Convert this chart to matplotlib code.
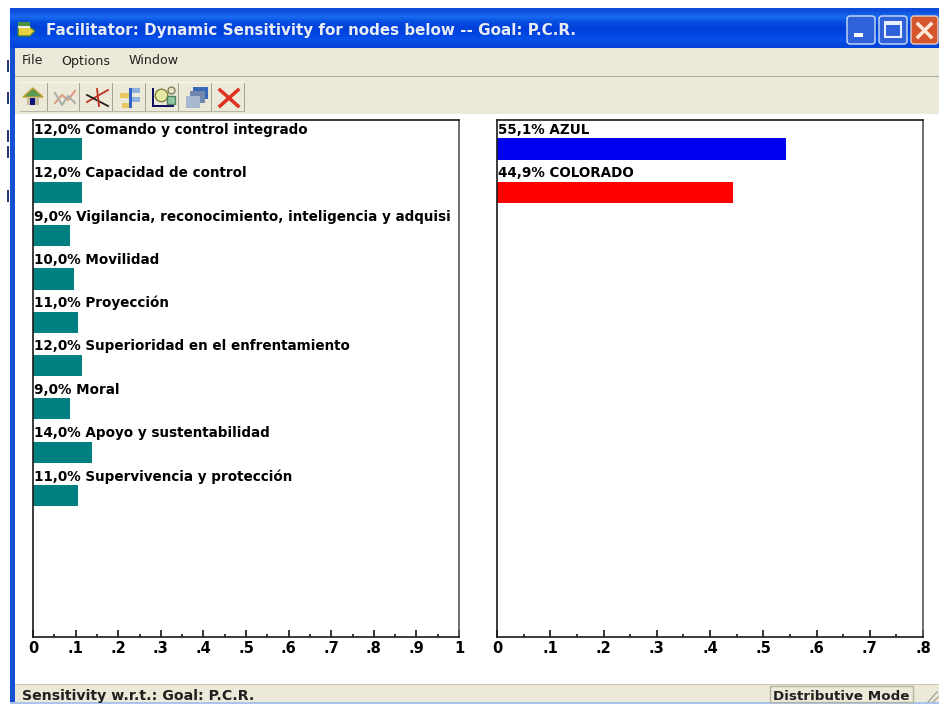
import numpy as np
import matplotlib
matplotlib.use("Agg")
import matplotlib.pyplot as plt
from matplotlib.patches import Rectangle, Polygon, FancyBboxPatch

W, H = 939, 706

# left panel
nodes = ["Comando y control integrado", "Capacidad de control",
         "Vigilancia, reconocimiento, inteligencia y adquisi", "Movilidad", "Proyección",
         "Superioridad en el enfrentamiento", "Moral", "Apoyo y sustentabilidad",
         "Supervivencia y protección"]
node_labels = ["12,0%", "12,0%", "9,0%", "10,0%", "11,0%", "12,0%", "9,0%", "14,0%", "11,0%"]
node_values = [0.115, 0.115, 0.086, 0.0955, 0.105, 0.115, 0.086, 0.138, 0.105]
left_ticks = [0, .1, .2, .3, .4, .5, .6, .7, .8, .9, 1]
left_ticklabels = ["0", ".1", ".2", ".3", ".4", ".5", ".6", ".7", ".8", ".9", "1"]

# right panel
alts = ["AZUL", "COLORADO"]
alt_labels = ["55,1%", "44,9%"]
alt_values = [0.543, 0.443]
alt_colors = ["#0000f0", "#ff0000"]
right_ticks = [0, .1, .2, .3, .4, .5, .6, .7, .8]
right_ticklabels = ["0", ".1", ".2", ".3", ".4", ".5", ".6", ".7", ".8"]

plt.rcParams["font.family"] = ["DejaVu Sans"]

fig = plt.figure(figsize=(W / 100, H / 100), dpi=100, facecolor="white")

# window chrome, drawn in pixel coordinates
bg = fig.add_axes([0, 0, 1, 1])
bg.set_xlim(0, W)
bg.set_ylim(H, 0)
bg.axis("off")


def box(x0, y0, x1, y1, color, z=1, **kw):
    bg.add_patch(Rectangle((x0, y0), x1 - x0, y1 - y0, facecolor=color, edgecolor="none", zorder=z, **kw))


grad = np.array([[0.05, 0.30, 0.85], [0.10, 0.42, 0.95], [0.02, 0.30, 0.88], [0.00, 0.25, 0.85],
                 [0.00, 0.27, 0.88], [0.03, 0.32, 0.92], [0.02, 0.27, 0.85]])
bg.imshow(grad[:, None, :], extent=(10, W, 48, 8), aspect="auto", interpolation="bilinear", zorder=1)
bg.set_xlim(0, W)
bg.set_ylim(H, 0)
box(10, 48, 15, 703, "#1450d2", 1)
box(15, 48, W, 114, "#ece9d8", 1)
box(15, 76, W, 77, "#a8a698", 2)
box(15, 685, W, 702, "#ece9d8", 1)
box(15, 684, W, 685, "#c9c6b6", 2)
box(10, 702, W, 703.5, "#a9c4ee", 2)
for yy in [60, 92, 130, 146, 190]:
    box(7, yy, 9, yy + 12, "#2a3a70", 1)

# title and menus
bg.text(46, 31, "Facilitator: Dynamic Sensitivity for nodes below -- Goal: P.C.R.", color="#e8ecf4",
        fontsize=10.9, fontweight="bold", va="center", ha="left", zorder=3)
bg.add_patch(Polygon([[18, 27], [30, 27], [35, 31], [30, 36], [18, 36]], facecolor="#e8d040", edgecolor="#40803a", zorder=3))
box(18, 22, 30, 26, "#4a9040", 3)
box(18, 26, 30, 28, "#f0f0f0", 3)
bg.text(22, 61, "File", fontsize=9.1, va="center", color="#222222", zorder=3)
bg.text(61, 61, "Options", fontsize=9.1, va="center", color="#222222", zorder=3)
bg.text(129, 61, "Window", fontsize=9.1, va="center", color="#222222", zorder=3)

# caption buttons
bg.add_patch(FancyBboxPatch((847, 16), 28, 28, boxstyle="round,pad=0,rounding_size=3", facecolor="#2f62d8", edgecolor="#cfe0f5", lw=1, zorder=3))
bg.add_patch(FancyBboxPatch((879, 16), 28, 28, boxstyle="round,pad=0,rounding_size=3", facecolor="#2f62d8", edgecolor="#cfe0f5", lw=1, zorder=3))
bg.add_patch(FancyBboxPatch((911, 16), 27, 28, boxstyle="round,pad=0,rounding_size=3", facecolor="#d5562c", edgecolor="#e8d0c0", lw=1, zorder=3))
box(854, 33, 863, 37, "white", 4)
bg.add_patch(Rectangle((885, 22), 16, 15, facecolor="none", edgecolor="#e8f0ff", lw=1.5, zorder=4))
box(885, 22, 901, 25, "#e8f0ff", 4)
bg.plot([918, 931], [24, 37], color="#ffe8d8", lw=2.5, zorder=4, clip_on=False)
bg.plot([918, 931], [37, 24], color="#ffe8d8", lw=2.5, zorder=4, clip_on=False)

# toolbar buttons
btn_edges = [20, 48, 80, 113, 146, 179, 212, 245]
for a, b in zip(btn_edges[:-1], btn_edges[1:]):
    box(b - 1, 82, b, 112, "#a5a394", 2)
    box(a, 82, b, 83, "#f8f7f0", 2)
    box(a, 111, b, 112, "#b8b6a8", 2)
bg.add_patch(Polygon([[23, 97], [33, 88], [43, 97]], facecolor="#5a9a50", edgecolor="#c0a030", zorder=3))
box(27, 97, 39, 105, "#c8c0a0", 3)
box(30, 98, 35, 105, "#14147a", 4)
bg.plot([55, 62, 68, 75], [103, 95, 100, 91], color="#e09a80", lw=1.5, zorder=3)
bg.plot([55, 62, 68, 75], [93, 105, 96, 103], color="#a8b0a8", lw=1.5, zorder=3)
bg.plot([87, 108], [102, 90], color="#c03020", lw=1.3, zorder=3)
bg.plot([87, 108], [95, 106], color="#202020", lw=1.3, zorder=3)
bg.plot([97, 99], [89, 106], color="#c03020", lw=1.3, zorder=3)
box(120, 93, 129, 98, "#eac860", 3)
box(122, 103, 130, 108, "#eac860", 3)
box(129, 88, 132, 108, "#3060c0", 3)
box(132, 88, 140, 93, "#90b0e0", 3)
box(132, 97, 140, 102, "#90b0e0", 3)
box(152, 88, 154, 107, "#101060", 3)
box(152, 105, 174, 107, "#101060", 3)
bg.plot(161, 95, "o", ms=9, mfc="#e4e8a0", mec="#808040", zorder=3)
bg.plot(171, 90, "o", ms=5, mfc="#e8e4c0", mec="#808060", zorder=3)
bg.plot(171, 100, "s", ms=6, mfc="#90c8a0", mec="#508060", zorder=3)
box(193, 87, 208, 99, "#3a68b8", 3)
box(190, 91, 205, 103, "#7088b0", 4)
box(186, 96, 200, 108, "#a8b8d0", 5)
bg.plot([220, 238], [90, 106], color="#e03020", lw=2.5, zorder=3)
bg.plot([220, 238], [106, 90], color="#e03020", lw=2.5, zorder=3)

# status bar
bg.text(22, 696, "Sensitivity w.r.t.: Goal: P.C.R.", fontsize=10.2, fontweight="bold", va="center", color="#202020", zorder=3)
bg.add_patch(Rectangle((770, 686), 143, 16, facecolor="#ece9d8", edgecolor="#b5b3a4", lw=1, zorder=2))
bg.text(773, 696, "Distributive Mode", fontsize=9.7, fontweight="bold", va="center", color="#202020", zorder=3)
bg.plot([928, 937], [702, 692], color="#a8a698", lw=1, zorder=3)
bg.plot([933, 938], [702, 697], color="#a8a698", lw=1, zorder=3)


# one bar panel
def panel(left, xmax, labels, names, values, colors, ticks, ticklabels, minor_step):
    ax = fig.add_axes([left / W, 1 - 637 / H, 426 / W, 517 / H])
    rows = np.arange(len(values))
    ax.barh(rows, values, height=0.49, color=colors, linewidth=0, zorder=2)
    for i, (pct, name) in enumerate(zip(labels, names)):
        ax.text(0.002 * xmax, i - 0.44, pct + " " + name, fontsize=9.75, fontweight="bold",
                va="center", ha="left", color="black", zorder=3, clip_on=True)
    ax.set_xlim(0, xmax)
    ax.set_ylim(11.27, -0.67)
    ax.set_yticks([])
    ax.set_xticks(ticks)
    ax.set_xticklabels(ticklabels, fontsize=10.5, fontweight="bold", family="Liberation Sans Narrow")
    ax.set_xticks(np.arange(minor_step, xmax, minor_step * 2), minor=True)
    ax.tick_params(axis="x", which="major", direction="in", length=5.2, width=1.1, pad=3)
    ax.tick_params(axis="x", which="minor", direction="in", length=2.4, width=1.1)
    for side in ax.spines:
        ax.spines[side].set_linewidth(1.2)
        ax.spines[side].set_color("#1a1a1a")
    ax.spines["right"].set_color("#555555")
    return ax


panel(33, 1, node_labels, nodes, node_values, "#008080", left_ticks, left_ticklabels, 0.05)
panel(497, 0.8, alt_labels, alts, alt_values, alt_colors, right_ticks, right_ticklabels, 0.05)

fig.savefig("out.png", dpi=100)
